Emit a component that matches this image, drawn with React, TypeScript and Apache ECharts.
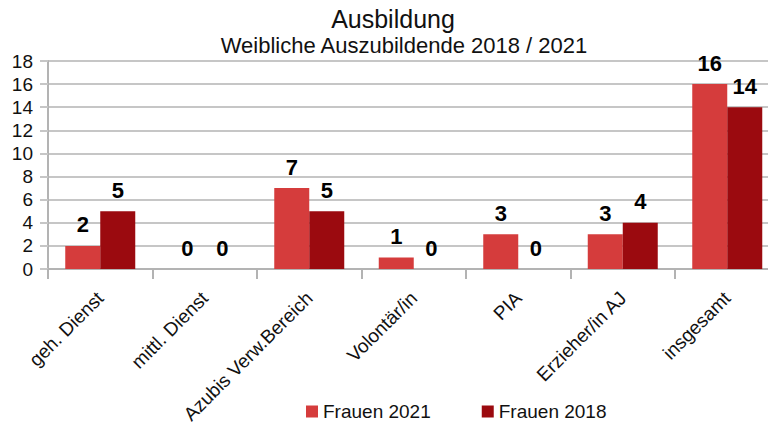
import React, { useEffect, useRef } from "react";
import * as echarts from "echarts";

const categories = [
  "geh. Dienst",
  "mittl. Dienst",
  "Azubis Verw.Bereich",
  "Volontär/in",
  "PIA",
  "Erzieher/in AJ",
  "insgesamt",
];
const frauen2021 = [2, 0, 7, 1, 3, 3, 16];
const frauen2018 = [5, 0, 5, 0, 0, 4, 14];
const seriesNames = ["Frauen 2021", "Frauen 2018"];
const titleText = "Ausbildung";
const subtitleText = "Weibliche Auszubildende 2018 / 2021";

const FONT = "'Liberation Sans', Arial, sans-serif";
const TEXT = "#111111";

export default function App() {
  const ref = useRef<HTMLDivElement>(null);
  useEffect(() => {
    if (!ref.current) return;
    const chart = echarts.init(ref.current, undefined, { renderer: "svg" });
    const label = {
      show: true,
      position: "top" as const,
      distance: 10,
      fontSize: 22,
      fontWeight: "bold" as const,
      color: "#000",
      fontFamily: FONT,
    };
    chart.setOption({
      animation: false,
      backgroundColor: "#ffffff",
      title: [
        {
          text: titleText,
          left: 393,
          textAlign: "center",
          top: 6,
          padding: 0,
          textStyle: { fontSize: 25, fontWeight: "normal", color: TEXT, fontFamily: FONT },
        },
        {
          text: subtitleText,
          left: 404,
          textAlign: "center",
          top: 34,
          padding: 0,
          textStyle: { fontSize: 22, fontWeight: "normal", color: TEXT, fontFamily: FONT },
        },
      ],
      legend: {
        data: seriesNames,
        left: 306,
        top: 402,
        padding: 0,
        itemWidth: 12,
        itemHeight: 12,
        itemGap: 51,
        icon: "rect",
        textStyle: { fontSize: 19, color: TEXT, fontFamily: FONT },
      },
      grid: { left: 48, right: 0.5, top: 61, bottom: 158, containLabel: false },
      xAxis: {
        type: "category",
        data: categories,
        axisLine: { lineStyle: { color: "#b3b3b3", width: 2 } },
        axisTick: { show: true, length: 10, lineStyle: { color: "#b3b3b3", width: 2 } },
        axisLabel: {
          rotate: 45,
          margin: 26,
          fontSize: 19,
          color: TEXT,
          fontFamily: FONT,
          interval: 0,
        },
      },
      yAxis: {
        type: "value",
        min: 0,
        max: 18,
        interval: 2,
        axisLine: { show: true, lineStyle: { color: "#b3b3b3", width: 2 } },
        axisTick: { show: true, length: 8, lineStyle: { color: "#c6c6c6", width: 2 } },
        splitLine: { lineStyle: { color: "#c6c6c6", width: 2 } },
        axisLabel: { margin: 15, fontSize: 19, color: TEXT, fontFamily: FONT },
      },
      series: [
        {
          name: seriesNames[0],
          type: "bar",
          data: frauen2021,
          barWidth: 35,
          barGap: "0%",
          itemStyle: { color: "#d53c3c" },
          label,
        },
        {
          name: seriesNames[1],
          type: "bar",
          data: frauen2018,
          barWidth: 35,
          barGap: "0%",
          itemStyle: { color: "#9b0a0f" },
          label,
        },
      ],
    });
    return () => chart.dispose();
  }, []);
  return (
    <div
      ref={ref}
      style={{ position: "fixed", left: 0, top: 0, width: 780, height: 427, background: "#fff" }}
    />
  );
}
